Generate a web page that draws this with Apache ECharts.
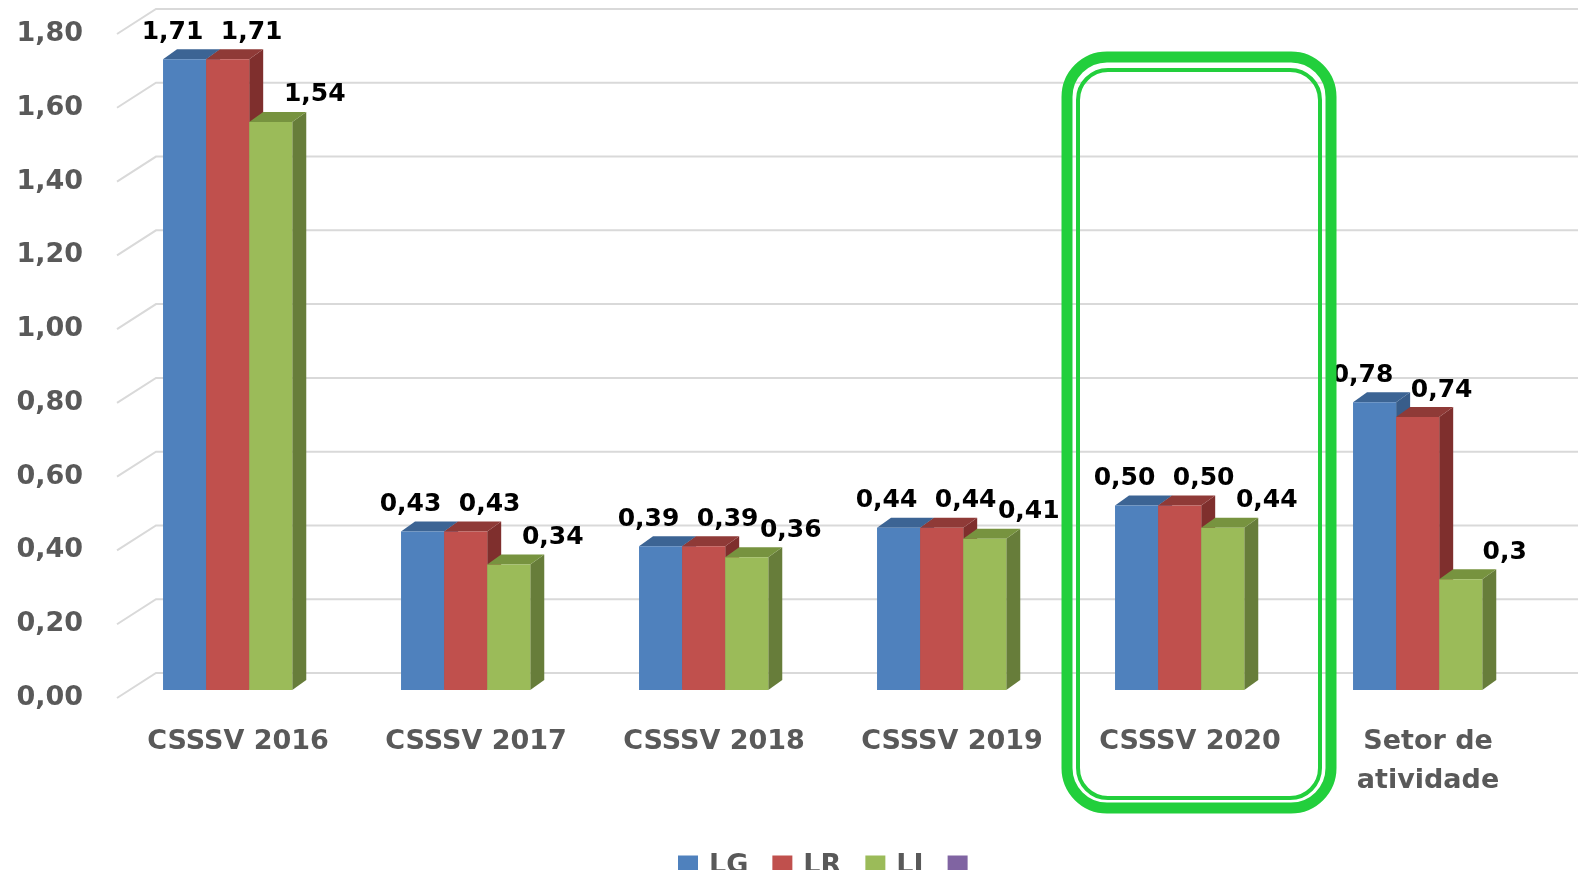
<!DOCTYPE html>
<html>
<head>
<meta charset="utf-8">
<script src="https://cdn.jsdelivr.net/npm/echarts@6/dist/echarts.min.js"></script>
<style>
  html, body { margin: 0; padding: 0; background: #fff; }
  #chart { width: 1578px; height: 870px; }
</style>
</head>
<body>
<div id="chart"></div>
<script>
// dados
const categories = ['CSSSV 2016', 'CSSSV 2017', 'CSSSV 2018', 'CSSSV 2019', 'CSSSV 2020', 'Setor de\natividade']
const seriesNames = ['LG', 'LR', 'LI']
const valuesLG = [1.71, 0.43, 0.39, 0.44, 0.50, 0.78]
const valuesLR = [1.71, 0.43, 0.39, 0.44, 0.50, 0.74]
const valuesLI = [1.54, 0.34, 0.36, 0.41, 0.44, 0.30]
const labelsLG = ['1,71', '0,43', '0,39', '0,44', '0,50', '0,78']
const labelsLR = ['1,71', '0,43', '0,39', '0,44', '0,50', '0,74']
const labelsLI = ['1,54', '0,34', '0,36', '0,41', '0,44', '0,3']
const yTickValues = [0, 0.2, 0.4, 0.6, 0.8, 1.0, 1.2, 1.4, 1.6, 1.8]
const yTickLabels = ['0,00', '0,20', '0,40', '0,60', '0,80', '1,00', '1,20', '1,40', '1,60', '1,80']

const FONT = 'DejaVu Sans'
const AXIS_GRAY = '#595959'
// cores estilo Excel: frente, lado, topo
const faceColors = [
  ['#4f81bd', '#385d8a', '#3c6494'],
  ['#c0504d', '#7f2f2d', '#8f3a37'],
  ['#9bbb59', '#677d3a', '#77933f']
]
const allValues = [valuesLG, valuesLR, valuesLI]
const allLabels = [labelsLG, labelsLR, labelsLI]
const labelShift = [-12, 24, 44]

const DEPTH_X = 14
const DEPTH_Y = -10
const LIFT = 8 // face frontal acima da aresta da parede

function barRenderer (s) {
  return function (params, api) {
    const cat = api.value(0)
    const val = api.value(1)
    const base = api.coord([cat, 0])
    const top = api.coord([cat, val])
    const band = api.size([1, 0])[0]
    const bw = band * 0.181
    const x0 = base[0] - band * 0.315 + s * bw
    const yb = base[1] - LIFT
    const yt = top[1] - LIFT
    const c = faceColors[s]
    return {
      type: 'group',
      children: [
        {
          type: 'polygon',
          shape: { points: [[x0 + bw, yb], [x0 + bw, yt], [x0 + bw + DEPTH_X, yt + DEPTH_Y], [x0 + bw + DEPTH_X, yb + DEPTH_Y]] },
          style: { fill: c[1] }
        },
        {
          type: 'polygon',
          shape: { points: [[x0, yt], [x0 + bw, yt], [x0 + bw + DEPTH_X, yt + DEPTH_Y], [x0 + DEPTH_X, yt + DEPTH_Y]] },
          style: { fill: c[2] }
        },
        {
          type: 'rect',
          shape: { x: x0, y: yt, width: bw, height: yb - yt },
          style: { fill: c[0] }
        },
        {
          type: 'text',
          z2: 10,
          style: {
            x: x0 + bw / 2 + labelShift[s],
            y: yt - 27,
            text: allLabels[s][params.dataIndex],
            fill: '#000',
            font: 'bold 25px "' + FONT + '"',
            align: 'center',
            verticalAlign: 'middle'
          }
        }
      ]
    }
  }
}

const chart = echarts.init(document.getElementById('chart'))

const series = [
  {
    type: 'custom',
    name: 'grade',
    silent: true,
    z: 1,
    data: yTickValues.map(v => [0, v]),
    renderItem (params, api) {
      const y = api.coord([0, api.value(1)])[1]
      const left = params.coordSys.x
      return {
        type: 'polyline',
        shape: { points: [[left - 2, y], [left + 37, y - 25], [1578, y - 25]] },
        style: { stroke: '#d9d9d9', lineWidth: 2, fill: null }
      }
    }
  }
]
seriesNames.forEach((name, s) => {
  series.push({
    type: 'custom',
    name: name,
    z: 2,
    itemStyle: { color: faceColors[s][0] },
    data: allValues[s].map((v, i) => [i, v]),
    renderItem: barRenderer(s)
  })
})
series.push({
  type: 'custom',
  name: 'Série 4',
  itemStyle: { color: '#8064a2' },
  data: [],
  renderItem () { return null }
})

const option = {
  animation: false,
  grid: { left: 119, right: 31, top: 34, bottom: 172 },
  legend: {
    data: ['LG', 'LR', 'LI', 'Série 4'],
    left: 673,
    top: 847,
    icon: 'rect',
    itemWidth: 20,
    itemHeight: 20,
    itemGap: 24,
    formatter: name => (name === 'Série 4' ? '' : name),
    textStyle: {
      color: AXIS_GRAY,
      fontFamily: FONT,
      fontWeight: 'bold',
      fontSize: 27,
      padding: [0, 0, 0, 6]
    }
  },
  xAxis: {
    type: 'category',
    data: categories,
    axisLine: { show: false },
    axisTick: { show: false },
    splitLine: { show: false },
    axisLabel: {
      color: AXIS_GRAY,
      fontFamily: FONT,
      fontWeight: 'bold',
      fontSize: 27,
      lineHeight: 39,
      margin: 24,
      interval: 0
    }
  },
  yAxis: {
    type: 'value',
    min: 0,
    max: 1.8,
    interval: 0.2,
    axisLine: { show: false },
    axisTick: { show: false },
    splitLine: { show: false },
    axisLabel: {
      color: AXIS_GRAY,
      fontFamily: FONT,
      fontWeight: 'bold',
      fontSize: 27,
      margin: 36,
      formatter: (v) => {
        const i = yTickValues.findIndex(t => Math.abs(t - v) < 1e-6)
        return i >= 0 ? yTickLabels[i] : ''
      }
    }
  },
  graphic: [
    {
      type: 'rect',
      z: 100,
      silent: true,
      shape: { x: 1067, y: 57, width: 264, height: 751, r: 40 },
      style: { fill: null, stroke: '#22cf3c', lineWidth: 11 }
    },
    {
      type: 'rect',
      z: 100,
      silent: true,
      shape: { x: 1078, y: 70, width: 242, height: 728, r: 30 },
      style: { fill: null, stroke: '#22cf3c', lineWidth: 4 }
    }
  ],
  series: series
}

chart.setOption(option)
</script>
</body>
</html>
